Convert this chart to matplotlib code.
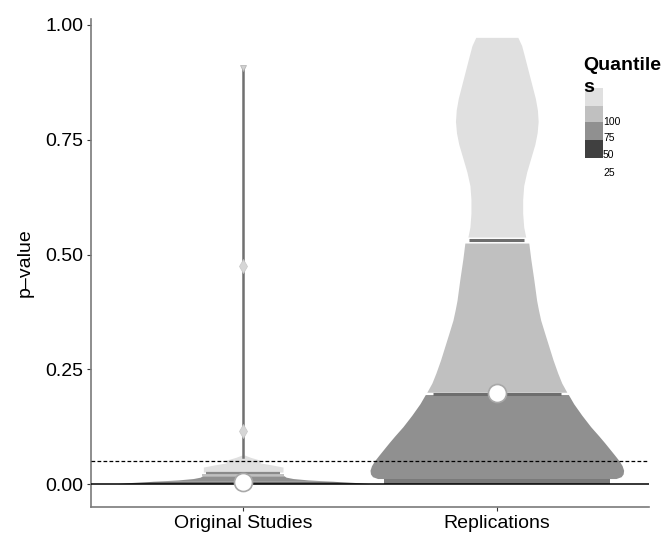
import numpy as np
import matplotlib
matplotlib.use('Agg')
from matplotlib import pyplot as plt
from matplotlib.patches import Rectangle

plt.rcParams.update({
    "font.family": ["Liberation Sans", "DejaVu Sans"],
    "font.size": 14,
})

#%% values

categories = ["Original Studies", "Replications"]
ytick_values = [0.00, 0.25, 0.50, 0.75, 1.00]
ytick_labels = ["0.00", "0.25", "0.50", "0.75", "1.00"]
alpha_level = 0.05

# replications violin: p-value levels and half-widths (x units)
rep_y = [0.012, 0.016, 0.022, 0.030, 0.040, 0.050, 0.062, 0.075, 0.090, 0.105, 0.125, 0.150, 0.175, 0.195,
         0.200, 0.220, 0.242, 0.270, 0.300, 0.330, 0.357, 0.380, 0.400, 0.445, 0.490, 0.525,
         0.538, 0.560, 0.590, 0.620, 0.650, 0.680, 0.710, 0.740, 0.765, 0.790, 0.815, 0.840, 0.870,
         0.900, 0.930, 0.955, 0.973]
rep_hw = [0.470, 0.490, 0.498, 0.500, 0.494, 0.483, 0.466, 0.447, 0.425, 0.402, 0.370, 0.335, 0.303, 0.282,
          0.276, 0.256, 0.240, 0.222, 0.205, 0.188, 0.173, 0.164, 0.157, 0.146, 0.134, 0.126,
          0.114, 0.106, 0.102, 0.102, 0.106, 0.118, 0.134, 0.150, 0.159, 0.163, 0.160, 0.152, 0.138,
          0.124, 0.110, 0.098, 0.083]
rep_regions = [(0.0, 0.195, "#909090"), (0.199, 0.530, "#c0c0c0"), (0.535, 1.0, "#e0e0e0")]
rep_base = (0.001, 0.011, 0.445)          # bottom quartile band: from, to, half-width
rep_qlines = [(0.196, 0.252), (0.531, 0.108)]

# original studies violin
orig_y = [0.001, 0.003, 0.006, 0.006, 0.009, 0.012, 0.015, 0.018, 0.018, 0.022,
          0.026, 0.037, 0.042, 0.046, 0.052, 0.058, 0.063]
orig_hw = [0.496, 0.453, 0.354, 0.354, 0.256, 0.197, 0.169, 0.161, 0.161, 0.161,
           0.157, 0.157, 0.110, 0.067, 0.067, 0.030, 0.006]
orig_regions = [(0.0, 0.006, "#6e6e6e"), (0.006, 0.018, "#909090"),
                (0.018, 0.022, "#c0c0c0"), (0.026, 1.0, "#e0e0e0")]
orig_qlines = [(0.023, 0.146)]
orig_outliers = [0.115, 0.475]
orig_max = 0.906

mean_x = [1, 2]
mean_y = [0.004, 0.198]

legend_labels = ["100", "75", "50", "25"]
legend_colors = ["#e0e0e0", "#c0c0c0", "#909090", "#404040"]

#%% plot

fig = plt.figure(figsize=(6.62, 5.44), dpi=100)
ax = fig.add_axes([91 / 662, 37 / 544, 558 / 662, 488 / 544])


def draw_violin(xc, ys, hws, regions):
    ys = np.asarray(ys)
    hws = np.asarray(hws)
    for lo, hi, col in regions:
        m = (ys >= lo) & (ys <= hi)
        ax.fill_betweenx(ys[m], xc - hws[m], xc + hws[m], color=col, lw=0, zorder=2)


draw_violin(2, rep_y, rep_hw, rep_regions)
ax.fill_betweenx([rep_base[0], rep_base[1]], 2 - rep_base[2], 2 + rep_base[2],
                 color="#7a7a7a", lw=0, zorder=2)
for yq, hw in rep_qlines:
    ax.plot([2 - hw, 2 + hw], [yq, yq], color="#6e6e6e", lw=2.2, solid_capstyle="butt", zorder=3)

draw_violin(1, orig_y, orig_hw, orig_regions)
for yq, hw in orig_qlines:
    ax.plot([1 - hw, 1 + hw], [yq, yq], color="#8a8a8a", lw=1.6, solid_capstyle="butt", zorder=3)
ax.plot([1, 1], [orig_y[-1] - 0.004, orig_max], color="#707070", lw=1.8, zorder=3)
ax.plot([1] * len(orig_outliers), orig_outliers, ls="none", marker="d", ms=7,
        mfc="#d6d6d6", mec="#c8c8c8", mew=0.5, zorder=4)
ax.plot([1], [orig_max], ls="none", marker="v", ms=4.5, mfc="#d0d0d0", mec="#b0b0b0",
        mew=0.5, zorder=4)

ax.axhline(0, color="black", lw=1.1, zorder=5)
ax.axhline(alpha_level, color="black", lw=0.9, ls=(0, (3, 1.8)), zorder=5)

ax.plot(mean_x, mean_y, ls="none", marker="o", ms=13, mfc="white", mec="#a8a8a8",
        mew=1.2, zorder=6)

ax.set_xlim(0.4, 2.6)
ax.set_ylim(-0.050, 1.013)
ax.set_xticks([1, 2])
ax.set_xticklabels(categories)
ax.set_yticks(ytick_values)
ax.set_yticklabels(ytick_labels)
ax.tick_params(length=3, width=0.8, color="#333333", pad=2.5, labelsize=14)
ax.set_ylabel("p\u2013value", fontsize=14)
ax.yaxis.set_label_coords(-0.102, 0.5)

for side in ["top", "right"]:
    ax.spines[side].set_visible(False)
for side in ["left", "bottom"]:
    ax.spines[side].set_color("#7a7a7a")
    ax.spines[side].set_linewidth(1.2)

# legend drawn by hand
box_tops = [88, 106, 122, 140]
box_h = [18, 16, 18, 18]
for top, h, col in zip(box_tops, box_h, legend_colors):
    fig.patches.append(Rectangle((585 / 662, 1 - (top + h) / 544), 18 / 662, h / 544,
                                 transform=fig.transFigure, color=col, lw=0, zorder=1))
for lab, yc in zip(legend_labels, [122, 138, 155, 173]):
    fig.text(603 / 662, 1 - yc / 544, lab, fontsize=7.5, ha="left", va="center")
fig.text(583 / 662, 1 - 66 / 544, "Quantile", fontsize=14, weight="bold", ha="left", va="center")
fig.text(583 / 662, 1 - 88 / 544, "s", fontsize=14, weight="bold", ha="left", va="center", zorder=3)

plt.savefig("out.png", dpi=100)
